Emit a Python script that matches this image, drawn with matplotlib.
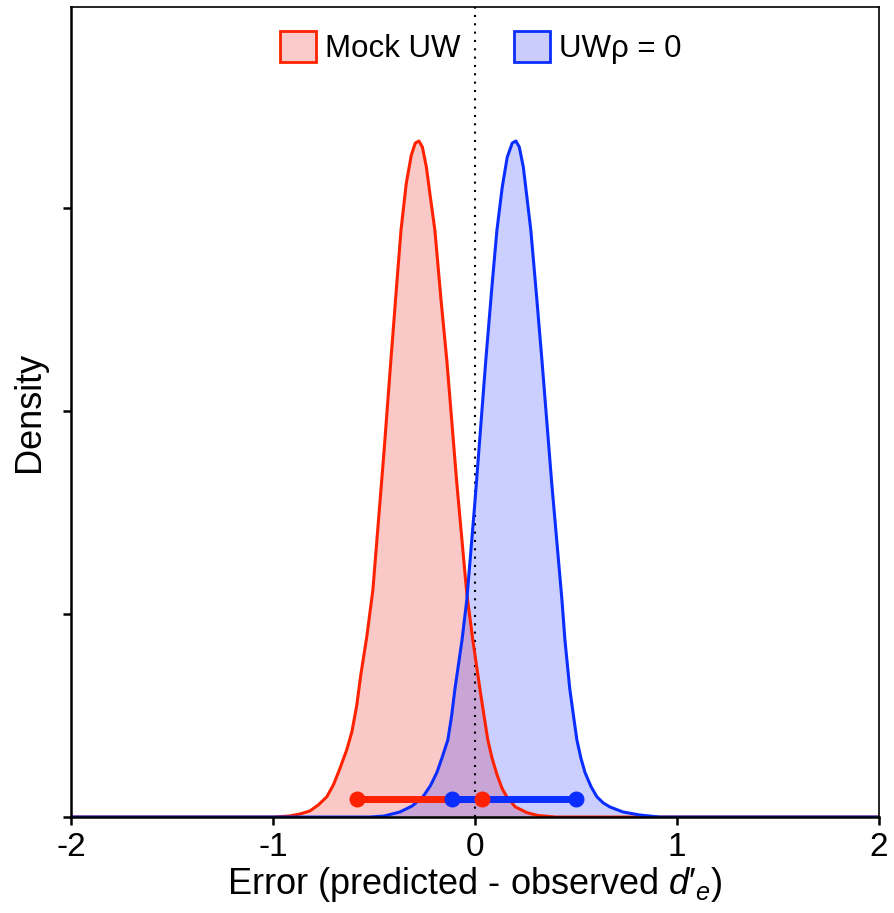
import matplotlib
matplotlib.use('Agg')
import matplotlib.pyplot as plt
from matplotlib.patches import Patch

# Fonts: Arial-like
plt.rcParams['font.family'] = 'Liberation Sans'
plt.rcParams['mathtext.fontset'] = 'custom'
plt.rcParams['mathtext.rm'] = 'Liberation Sans'
plt.rcParams['mathtext.it'] = 'Liberation Sans:italic'

# Density curves (error, density)
mock_x = [-2.0, -1.0, -0.92, -0.866, -0.817, -0.775, -0.733, -0.70, -0.668, -0.635,
          -0.609, -0.585, -0.565, -0.535, -0.505, -0.45, -0.416, -0.385, -0.366, -0.34,
          -0.315, -0.295, -0.277, -0.26, -0.24, -0.22, -0.198, -0.168, -0.139, -0.09,
          -0.04, -0.01, 0.025, 0.045, 0.064, 0.085, 0.109, 0.135, 0.158, 0.20,
          0.257, 0.31, 0.40, 2.0]
mock_y = [0.0, 0.0, 0.005, 0.015, 0.03, 0.06, 0.10, 0.16, 0.24, 0.33,
          0.42, 0.55, 0.70, 0.89, 1.12, 1.80, 2.25, 2.65, 2.89, 3.12,
          3.26, 3.32, 3.33, 3.30, 3.20, 3.05, 2.89, 2.55, 2.25, 1.65,
          1.10, 0.87, 0.63, 0.50, 0.38, 0.29, 0.21, 0.14, 0.10, 0.05,
          0.022, 0.008, 0.0, 0.0]

uw0_x = [-2.0, -0.52, -0.45, -0.371, -0.31, -0.257, -0.22, -0.188, -0.16, -0.134,
         -0.115, -0.099, -0.064, -0.04, 0.0, 0.054, 0.085, 0.109, 0.135, 0.16,
         0.185, 0.203, 0.22, 0.24, 0.258, 0.277, 0.305, 0.332, 0.38, 0.431,
         0.446, 0.47, 0.488, 0.505, 0.525, 0.545, 0.575, 0.604, 0.635, 0.668,
         0.733, 0.817, 0.916, 2.0]
uw0_y = [0.0, 0.0, 0.005, 0.025, 0.055, 0.10, 0.155, 0.22, 0.30, 0.38,
         0.50, 0.63, 0.87, 1.07, 1.55, 2.25, 2.62, 2.89, 3.10, 3.25,
         3.32, 3.33, 3.30, 3.20, 3.05, 2.89, 2.57, 2.25, 1.65, 1.07,
         0.87, 0.63, 0.50, 0.38, 0.29, 0.22, 0.15, 0.10, 0.07, 0.05,
         0.025, 0.01, 0.0, 0.0]

# Intervals shown near the bottom
mock_ci = [-0.584, 0.036]
uw0_ci = [-0.112, 0.50]
ci_level = 0.087

labels = ['Mock UW', 'UW\u03c1 = 0']
red_line = '#FF2200'
red_fill = '#F22626'
blue_line = '#0A2EFF'
blue_fill = '#3340FF'

fig = plt.figure(figsize=(8.94, 9.13), dpi=100)
ax = fig.add_axes([0.0794, 0.1051, 0.9036, 0.8872])

ax.fill_between(mock_x, mock_y, 0, color=red_fill, alpha=0.25, linewidth=0)
ax.plot(mock_x, mock_y, color=red_line, linewidth=2.2)
ax.fill_between(uw0_x, uw0_y, 0, color=blue_fill, alpha=0.25, linewidth=0)
ax.plot(uw0_x, uw0_y, color=blue_line, linewidth=2.2)

ax.axvline(0, color='black', linestyle=(0, (1, 3)), linewidth=1.5, zorder=1)

# interval bars
ax.plot(mock_ci, [ci_level, ci_level], color=red_line, linewidth=5, solid_capstyle='butt', zorder=4)
ax.plot(uw0_ci, [ci_level, ci_level], color=blue_line, linewidth=5, solid_capstyle='butt', zorder=5)
ax.plot(mock_ci, [ci_level, ci_level], 'o', color=red_line, markersize=10.5, zorder=6)
ax.plot(uw0_ci, [ci_level, ci_level], 'o', color=blue_line, markersize=10.5, zorder=7)

ax.set_xlim(-2, 2)
ax.set_ylim(0, 3.99)
ax.set_xticks([-2, -1, 0, 1, 2])
ax.set_xticklabels(['-2', '-1', '0', '1', '2'])
ax.set_yticks([0, 1, 2, 3])
ax.set_yticklabels([])
ax.tick_params(direction='out', length=6, width=1.8, labelsize=24, pad=5)

for side in ['left', 'bottom']:
    ax.spines[side].set_linewidth(1.8)
for side in ['top', 'right']:
    ax.spines[side].set_linewidth(1.2)

ax.set_xlabel(r"Error (predicted - observed $d\prime_{e}$)", fontsize=26, labelpad=1)
ax.set_ylabel('Density', fontsize=26, labelpad=6)

# legend with coloured borders on the patches
handles = [Patch(facecolor='#FBCACA', edgecolor=red_line, linewidth=2),
           Patch(facecolor='#CACCFC', edgecolor=blue_line, linewidth=2)]
ax.legend(handles, labels, loc='center', bbox_to_anchor=(0.507, 0.95), ncol=2,
          frameon=False, fontsize=22.5, handlelength=1.15, handleheight=1.15,
          handletextpad=0.3, columnspacing=1.7, borderpad=0)

fig.savefig('out.png', dpi=100)
